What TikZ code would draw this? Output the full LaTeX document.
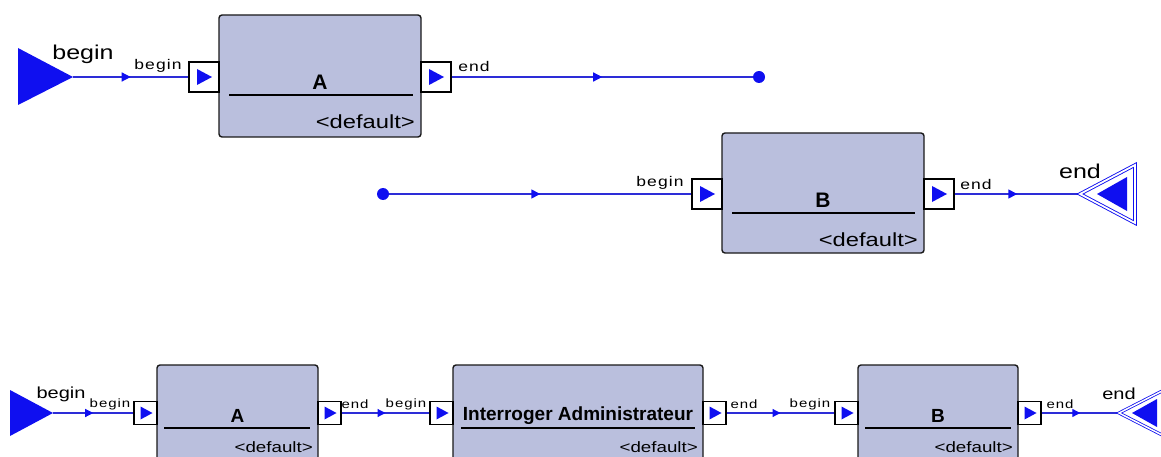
\documentclass[tikz,border=0pt]{standalone}
\usepackage{fontspec}
\usepackage{tikz}
\usepackage{xcolor}
\usetikzlibrary{arrows.meta,decorations.markings}

\newfontfamily\lblfont[FakeStretch=1.25]{Liberation Sans}
\newfontfamily\prtfont[FakeStretch=1.25,LetterSpace=8]{Liberation Sans}
\newfontfamily\ttlfont{Liberation Sans}

\definecolor{lineblue}{RGB}{45,45,215}
\definecolor{pblue}{RGB}{15,15,240}
\definecolor{boxfill}{RGB}{186,191,221}

\begin{document}
\begin{tikzpicture}[x=1pt, y=-1pt,
    blk/.style={draw=black!90, line width=1.4pt, fill=boxfill, rounded corners=3pt, inner sep=0pt},
    port/.style={draw=black, line width=1.2pt, fill=white, inner sep=0pt, minimum width=30, minimum height=30,
        path picture={\fill[pblue] ([xshift=-7pt,yshift=8pt]path picture bounding box.center) -- ++(15pt,-8pt) -- ++(-15pt,-8pt) -- cycle;}},
    sport/.style={draw=black, line width=1.1pt, fill=white, inner sep=0pt, minimum width=23, minimum height=23,
        path picture={\fill[pblue] ([xshift=-5pt,yshift=6.5pt]path picture bounding box.center) -- ++(12pt,-6.5pt) -- ++(-12pt,-6.5pt) -- cycle;}},
    conn/.style={draw=lineblue, line width=1.4pt, postaction={decorate},
        decoration={markings, mark=at position 0.5 with {\arrow{Triangle[length=#1,width=#1,color=pblue]}}}},
    conn/.default=9pt,
    dot/.style={circle, fill=pblue, inner sep=0pt, minimum size=12},
    bigl/.style={inner sep=0pt, font=\lblfont\fontsize{20}{22}\selectfont},
    sbigl/.style={inner sep=0pt, font=\lblfont\fontsize{16}{18}\selectfont},
    prtl/.style={inner sep=0pt, font=\prtfont\fontsize{14}{16}\selectfont},
    sprtl/.style={inner sep=0pt, font=\prtfont\fontsize{12}{14}\selectfont},
    ttl/.style={inner sep=0pt, font=\ttlfont\bfseries\fontsize{21}{23}\selectfont},
    sttl/.style={inner sep=0pt, font=\ttlfont\bfseries\fontsize{19}{21}\selectfont},
    dflt/.style={inner sep=0pt, anchor=east, font=\lblfont\fontsize{19}{21}\selectfont},
    sdflt/.style={inner sep=0pt, anchor=east, font=\lblfont\fontsize{15}{17}\selectfont}]
    \useasboundingbox (0,0) rectangle (1161,457);
    \clip (0,0) rectangle (1161,457);

    % first diagram: A
    \fill[pblue] (18,48) -- (73,77) -- (18,105) -- cycle;
    \coordinate (s1) at (73,77);
    \node[bigl] (s1l) at (83,54) {begin};
    \node[blk, minimum width=202, minimum height=122] (A) at (320,76) {};
    \node[ttl] (At) at (320,82) {A};
    \draw[black, line width=1.2pt] (229,95) -- (413,95);
    \node[dflt] (Ad) at (415,122) {<default>};
    \node[port] (Ain) at (204,77) {};
    \node[port] (Aout) at (436,77) {};
    \node[dot] (d1) at (759,77) {};
    \draw[conn] (s1) -- (Ain.west);
    \draw[conn] (Aout.east) -- (d1);
    \node[prtl] (Ainl) at (158,66) {begin};
    \node[prtl] (Aoutl) at (474,66) {end};

    % second diagram: B
    \node[blk, minimum width=202, minimum height=120] (B) at (823,193) {};
    \node[ttl] (Bt) at (823,200) {B};
    \draw[black, line width=1.2pt] (732,213) -- (915,213);
    \node[dflt] (Bd) at (918,240) {<default>};
    \node[port] (Bin) at (707,194) {};
    \node[port] (Bout) at (939,194) {};
    \node[dot] (d2) at (383,194) {};
    \coordinate (e1) at (1080,194);
    \draw[conn] (d2) -- (Bin.west);
    \draw[conn] (Bout.east) -- (e1);
    \draw[pblue, line width=0.9pt, double=white, double distance=1.8pt] (1080,194) -- (1135,165) -- (1135,223) -- cycle;
    \fill[pblue] (1097,194) -- (1127,177) -- (1127,211) -- cycle;
    \node[prtl] (Binl) at (660,183) {begin};
    \node[prtl] (Boutl) at (976,184) {end};
    \node[bigl] (e1l) at (1080,171) {end};

    % composed diagram: A, Interroger Administrateur, B
    \fill[pblue] (10,390) -- (53,413) -- (10,436) -- cycle;
    \coordinate (s2) at (53,413);
    \node[sbigl] (s2l) at (61,394) {begin};
    \node[blk, minimum width=161, minimum height=100] (A2) at (237.5,415) {};
    \node[sttl] (A2t) at (237.5,416) {A};
    \draw[black, line width=1.1pt] (164,428) -- (310,428);
    \node[sdflt] (A2d) at (313,447) {<default>};
    \node[blk, minimum width=250, minimum height=100] (I) at (578,415) {};
    \node[sttl] (It) at (578,416) {Interroger Administrateur};
    \draw[black, line width=1.1pt] (461,428) -- (695,428);
    \node[sdflt] (Id) at (698,447) {<default>};
    \node[blk, minimum width=160, minimum height=100] (B2) at (938,415) {};
    \node[sttl] (B2t) at (938,416) {B};
    \draw[black, line width=1.1pt] (865,428) -- (1011,428);
    \node[sdflt] (B2d) at (1013,447) {<default>};
    \node[sport] (A2in) at (145.5,413) {};
    \node[sport] (A2out) at (329.5,413) {};
    \node[sport] (Iin) at (441.5,413) {};
    \node[sport] (Iout) at (714.5,413) {};
    \node[sport] (B2in) at (846.5,413) {};
    \node[sport] (B2out) at (1029.5,413) {};
    \coordinate (e2) at (1119,413);
    \draw[conn=8pt, line width=1.2pt] (s2) -- (A2in.west);
    \draw[conn=8pt, line width=1.2pt] (A2out.east) -- (Iin.west);
    \draw[conn=8pt, line width=1.2pt] (Iout.east) -- (B2in.west);
    \draw[conn=8pt, line width=1.2pt] (B2out.east) -- (e2);
    \draw[pblue, line width=0.8pt, double=white, double distance=1.5pt] (1119,413) -- (1164,390) -- (1164,436) -- cycle;
    \fill[pblue] (1132,413) -- (1157,399) -- (1157,427) -- cycle;
    \node[sprtl] (A2inl) at (110,404) {begin};
    \node[sprtl] (A2outl) at (355,404) {end};
    \node[sprtl] (Iinl) at (406,404) {begin};
    \node[sprtl] (Ioutl) at (744,404) {end};
    \node[sprtl] (B2inl) at (810,404) {begin};
    \node[sprtl] (B2outl) at (1060,404) {end};
    \node[sbigl] (e2l) at (1119,394) {end};
\end{tikzpicture}
\end{document}
